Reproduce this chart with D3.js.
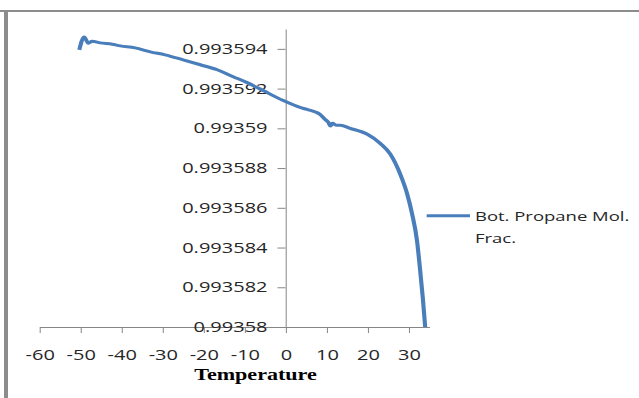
<!DOCTYPE html>
<html>
<head>
<meta charset="utf-8">
<script src="https://cdn.jsdelivr.net/npm/d3@7"></script>
<style>
  body { margin: 0; background: #fff; }
</style>
</head>
<body>
<div id="line_plot"></div>
<script>
// data
var temperature = [-50.3, -49.1, -48.1, -47.2, -45.2, -42.3, -40.3, -36.7, -33.0, -29.4,
  -25.0, -20.8, -16.7, -12.8, -9.4, -5.5, -0.6, 3.5, 5.2, 8.4,
  9.6, 10.4, 10.9, 11.4, 12.3, 13.3, 15.7, 19.9, 23.0, 25.5,
  27.9, 29.6, 30.8, 32.0, 32.7, 33.4, 34.0];
var propaneMolFrac = [0.99359395, 0.9935946, 0.99359428, 0.99359438, 0.9935943, 0.99359423, 0.99359415, 0.99359405, 0.99359385, 0.9935937,
  0.99359345, 0.9935932, 0.99359295, 0.9935926, 0.9935923, 0.9935919, 0.9935914, 0.99359105, 0.99359095, 0.9935907,
  0.99359045, 0.9935903, 0.99359012, 0.99359025, 0.99359015, 0.99359015, 0.99359, 0.9935897, 0.99358925, 0.9935887,
  0.9935877, 0.9935867, 0.9935857, 0.99358435, 0.993583, 0.9935815, 0.99358];
var xTicks = [-60, -50, -40, -30, -20, -10, 0, 10, 20, 30];
var yTicks = [0.99358, 0.993582, 0.993584, 0.993586, 0.993588, 0.99359, 0.993592, 0.993594];
var seriesName = ["Bot. Propane Mol.", "Frac."];
var xTitle = "Temperature";

var width = 639, height = 398;
// the original picture is stretched sideways, so the chart is drawn in a stretched group
var stretch = 1.38;
var axisColor = "#868686";
var lineColor = "#4a7ebb";

var svg = d3.select("#line_plot")
  .append("svg")
    .attr("width", width)
    .attr("height", height)
    .style("display", "block");

// frame edges
svg.append("rect").attr("x", 0).attr("y", 10).attr("width", width).attr("height", 2).attr("fill", "#8c8c8c");
svg.append("rect").attr("x", 4).attr("y", 10).attr("width", 4).attr("height", height - 10).attr("fill", "#8c8c8c");

var chart = svg.append("g").attr("transform", "scale(" + stretch + ",1)");

var data = temperature.map(function(t, i) { return {time: t, amplitude: propaneMolFrac[i]}; });

var x = d3.scaleLinear()
  .domain([-60, 35])
  .range([39.5 / stretch, 429.3 / stretch]);
var y = d3.scaleLinear()
  .domain([0.99358, 0.993595])
  .range([327, 29]);

// X axis
var gx = chart.append("g")
  .attr("transform", "translate(0,327)")
  .call(d3.axisBottom(x)
    .tickValues(xTicks)
    .tickSizeInner(6)
    .tickSizeOuter(0)
    .tickPadding(17)
    .tickFormat(function(d) { return String(d); }));

// Y axis
var gy = chart.append("g")
  .attr("transform", "translate(" + (285.5 / stretch) + ",0)")
  .call(d3.axisLeft(y)
    .tickValues(yTicks)
    .tickSizeInner(8 / stretch)
    .tickSizeOuter(0)
    .tickPadding(10 / stretch)
    .tickFormat(d3.format(".6~f")));

[gx, gy].forEach(function(g) {
  g.selectAll("path, line")
    .attr("stroke", axisColor)
    .attr("vector-effect", "non-scaling-stroke");
  g.selectAll("text")
    .attr("fill", "#262626")
    .style("font-family", "'Open Sans', sans-serif")
    .style("font-size", "14.5px");
});

// the line
chart.append("path")
  .datum(data)
  .attr("fill", "none")
  .attr("stroke", lineColor)
  .attr("stroke-width", 3)
  .attr("stroke-linejoin", "round")
  .attr("d", d3.line()
    .curve(d3.curveMonotoneX)
    .x(function(d) { return x(d.time); })
    .y(function(d) { return y(d.amplitude); }));

// axis title
chart.append("text")
  .attr("x", 255.5 / stretch)
  .attr("y", 380)
  .attr("text-anchor", "middle")
  .style("font-family", "'Liberation Serif', serif")
  .style("font-weight", "bold")
  .style("font-size", "16px")
  .attr("fill", "#000")
  .text(xTitle);

// legend
chart.append("line")
  .attr("x1", 426.7 / stretch)
  .attr("x2", 470 / stretch)
  .attr("y1", 215.7)
  .attr("y2", 215.7)
  .attr("stroke", lineColor)
  .attr("stroke-width", 3);
var legendText = chart.append("text")
  .attr("fill", "#262626")
  .style("font-family", "'Open Sans', sans-serif")
  .style("font-size", "13.4px");
legendText.selectAll("tspan")
  .data(seriesName)
  .enter().append("tspan")
    .attr("x", 475 / stretch)
    .attr("y", function(d, i) { return 220.7 + i * 22.6; })
    .text(function(d) { return d; });
</script>
</body>
</html>
